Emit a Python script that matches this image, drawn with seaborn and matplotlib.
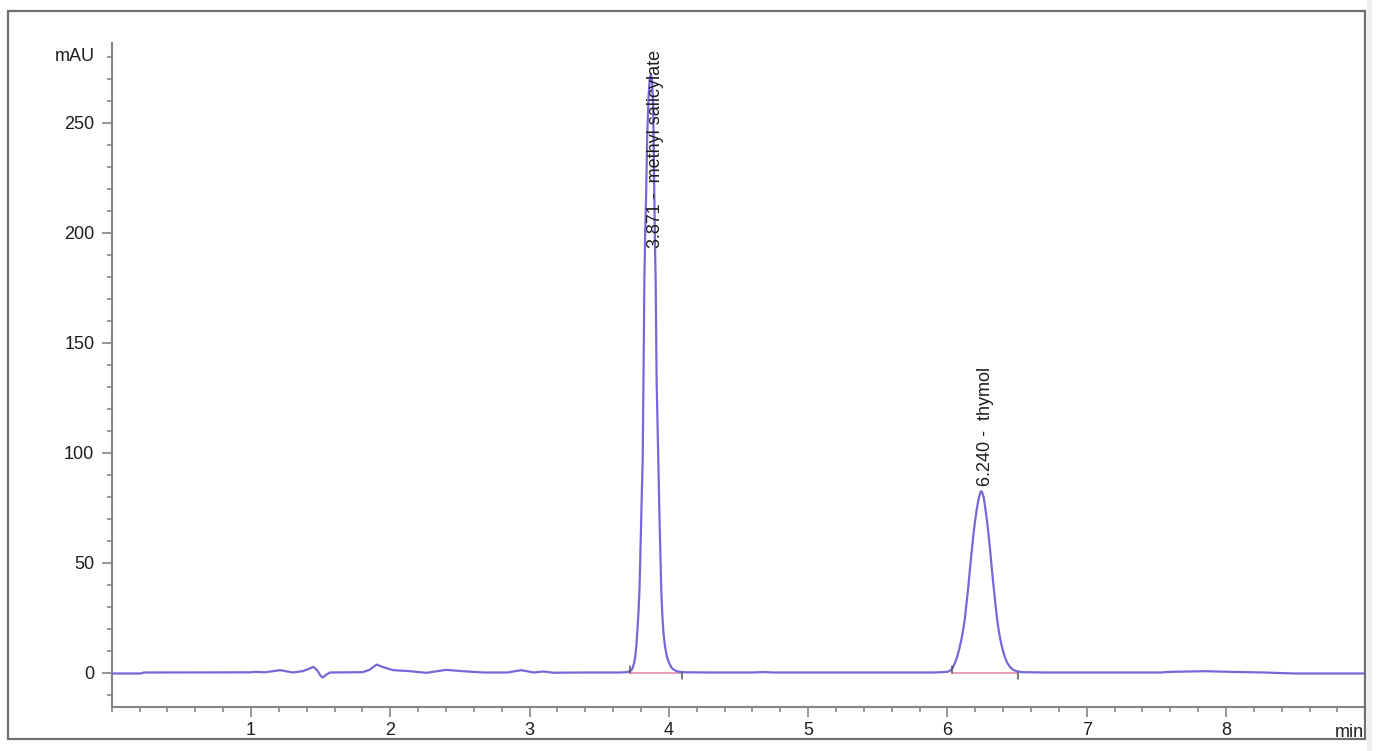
import numpy as np
import pandas as pd
import matplotlib
matplotlib.use("Agg")
import matplotlib.pyplot as plt
import seaborn as sns
from matplotlib.patches import Rectangle
from matplotlib.ticker import MultipleLocator

# ---------------- data ----------------
time_min = [0.00, 0.10, 0.21, 0.23, 0.50, 0.80, 1.00, 1.03, 1.10, 1.21, 1.30, 1.37,
            1.41, 1.447, 1.475, 1.50, 1.515, 1.54, 1.567, 1.80, 1.85, 1.902, 1.95,
            2.02, 2.14, 2.26, 2.40, 2.52, 2.67, 2.84, 2.94, 3.03, 3.10, 3.17, 3.40,
            3.65, 3.70, 3.721, 3.732, 3.740, 3.750, 3.759, 3.766, 3.773, 3.781,
            3.788, 3.794, 3.800, 3.806, 3.812, 3.815, 3.818, 3.821, 3.824, 3.830,
            3.836, 3.845, 3.855, 3.863, 3.871, 3.879, 3.887, 3.893, 3.900, 3.905,
            3.912, 3.924, 3.934, 3.946, 3.953, 3.961, 3.972, 3.985, 4.000, 4.020,
            4.038, 4.056, 4.08, 4.12, 4.30, 4.60, 4.68, 4.75, 5.00, 5.50, 5.90,
            6.000, 6.020, 6.035, 6.054, 6.070, 6.084, 6.100, 6.113, 6.125, 6.137,
            6.150, 6.161, 6.173, 6.185, 6.198, 6.210, 6.222, 6.233, 6.241, 6.249,
            6.260, 6.271, 6.284, 6.296, 6.308, 6.319, 6.331, 6.343, 6.355, 6.367,
            6.381, 6.396, 6.412, 6.429, 6.450, 6.472, 6.500, 6.540, 6.70, 7.00,
            7.30, 7.53, 7.60, 7.85, 8.03, 8.27, 8.50, 8.70, 9.00]
absorbance_mau = [-0.45, -0.45, -0.45, 0.0, 0.0, 0.05, 0.1, 0.3, 0.1, 1.06, 0.0, 0.6,
                  1.5, 2.6, 1.0, -1.5, -2.3, -1.0, 0.0, 0.15, 1.2, 3.6, 2.4,
                  1.06, 0.6, -0.15, 1.2, 0.6, 0.0, 0.0, 1.06, 0.0, 0.45, -0.1, 0.0,
                  0.0, 0.15, 0.6, 1.2, 2.1, 4.2, 7.4, 11.8, 18.0, 26.5,
                  36.2, 50.0, 66.5, 82.0, 96.8, 115.0, 135.0, 157.0, 178.0, 200.0,
                  215.0, 245.0, 263.0, 270.0, 272.0, 269.0, 258.0, 228.0, 195.0, 178.6,
                  133.0, 96.8, 66.5, 36.2, 26.0, 18.0, 12.0, 7.4, 4.5, 2.1,
                  1.2, 0.6, 0.3, 0.1, 0.0, 0.0, 0.2, 0.0, 0.0, 0.0, 0.0,
                  0.3, 0.9, 1.8, 4.4, 7.2, 10.5, 15.0, 19.5, 24.5, 31.7,
                  39.0, 46.8, 54.5, 62.0, 68.8, 74.1, 78.4, 81.2, 82.4, 81.9,
                  79.6, 75.0, 68.8, 62.0, 54.5, 46.8, 39.0, 31.7, 25.0, 19.5,
                  14.5, 10.5, 7.0, 4.4, 2.4, 1.2, 0.5, 0.15, 0.0, 0.0,
                  0.0, 0.0, 0.3, 0.6, 0.3, 0.0, -0.45, -0.45, -0.45]

peak_rt = [3.871, 6.240]
peak_names = ["methyl salicylate", "thymol"]
peak_start = [3.720, 6.032]
peak_end = [4.095, 6.505]
label_base_mau = [193.0, 85.0]

x_ticks = [1, 2, 3, 4, 5, 6, 7, 8]
y_ticks = [0, 50, 100, 150, 200, 250]

df = pd.DataFrame({"time": time_min, "mAU": absorbance_mau})

# ---------------- styling ----------------
sns.set_theme(style="white")
plt.rcParams["font.family"] = ["Liberation Sans", "DejaVu Sans"]

trace_color = "#7568d8"
base_color = "#e68bb4"
axis_color = "#858585"
text_color = "#1e1e1e"

fig = plt.figure(figsize=(13.79, 7.51), dpi=100)
ax = fig.add_axes([0.0810, 0.05859, 0.9091, 0.88375])

# integration baselines (under the trace)
for s, e in zip(peak_start, peak_end):
    ax.plot([s, e], [0, 0], color=base_color, lw=1.2, zorder=2)

sns.lineplot(data=df, x="time", y="mAU", ax=ax, color=trace_color, lw=1.6,
             estimator=None, sort=False, zorder=3)

# start / end markers of integration
for s, e in zip(peak_start, peak_end):
    ax.plot([s, s], [0, 2.8], color="#555555", lw=1.1, zorder=4)
    ax.plot([e, e], [0, -2.8], color="#555555", lw=1.1, zorder=4)

# peak labels
for rt, name, yb in zip(peak_rt, peak_names, label_base_mau):
    ax.annotate(f"{rt:.3f} -  {name}", xy=(rt, yb), xytext=(3, 0),
                textcoords="offset points", rotation=90, ha="center", va="bottom",
                fontsize=13, color=text_color, zorder=5)

ax.set_xlim(0, 9)
ax.set_ylim(-15.68, 286.0)
ax.set_xlabel("")
ax.set_ylabel("")

ax.set_xticks(x_ticks)
ax.set_xticklabels([str(t) for t in x_ticks])
ax.xaxis.set_minor_locator(MultipleLocator(0.2))
ax.set_yticks(y_ticks)
ax.set_yticklabels([str(t) for t in y_ticks])
ax.yaxis.set_minor_locator(MultipleLocator(10))

ax.tick_params(axis="both", which="major", direction="out", length=7.5, width=1.2,
               color=axis_color, labelsize=13, labelcolor=text_color)
ax.tick_params(axis="both", which="minor", direction="out", length=3.6, width=1.2,
               color=axis_color)
ax.tick_params(axis="x", which="major", pad=3)
ax.tick_params(axis="y", which="major", pad=5)
ax.tick_params(bottom=True, left=True, which="both")

for side in ["top", "right"]:
    ax.spines[side].set_visible(False)
for side in ["left", "bottom"]:
    ax.spines[side].set_color(axis_color)
    ax.spines[side].set_linewidth(1.5)

ax.annotate("mAU", xy=(0, 280), xycoords=("axes fraction", "data"),
            xytext=(-12.2, 0), textcoords="offset points", ha="right", va="center",
            fontsize=13, color=text_color)
ax.annotate("min", xy=(9.0, 0), xycoords=("data", "axes fraction"),
            xytext=(-1, -21.6), textcoords="offset points", ha="right", va="baseline",
            fontsize=13, color=text_color)

# outer frame of the report
fig.add_artist(Rectangle((8 / 1379, (751 - 739) / 751), (1364.5 - 8) / 1379, (739 - 11) / 751,
                         transform=fig.transFigure, fill=False, ec="#6e6e6e", lw=1.6,
                         zorder=10))
fig.add_artist(Rectangle((1367 / 1379, 0), 5 / 1379, 1, transform=fig.transFigure,
                         fc="#efefef", ec="none", zorder=1))

fig.savefig("out.png", dpi=100, facecolor="white")
